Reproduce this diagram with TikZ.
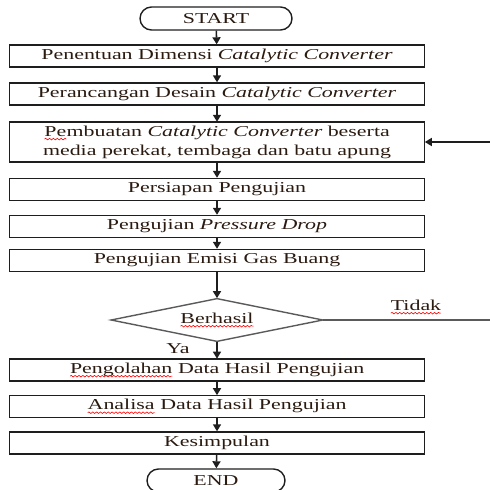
\documentclass[tikz,border=0pt]{standalone}
\usepackage{fontspec}
\setmainfont{Liberation Serif}[FakeStretch=1.45]
\usetikzlibrary{arrows.meta, positioning, shapes.geometric, decorations.pathmorphing}
\definecolor{cline}{HTML}{1E1E1E}
\definecolor{cgrey}{HTML}{5A5A5A}
\definecolor{ctext}{HTML}{2A1A10}
\tikzset{
  every picture/.style={font=\fontsize{8.6}{10.8}\selectfont, line width=0.8pt},
  box/.style={draw=cline, text=ctext, align=center, inner sep=2pt, minimum width=8.3cm, minimum height=0.44cm},
  term/.style={draw=cline, text=ctext, rounded corners=0.23cm, minimum height=0.46cm, inner sep=1pt},
  decision/.style={diamond, draw=cgrey, text=ctext, aspect=5, inner sep=0pt, minimum width=4.24cm, minimum height=0.86cm},
  arrow/.style={-{Triangle[length=1.4mm, width=1.6mm]}, draw=cline, line width=0.9pt},
  line/.style={draw=cgrey, line width=0.9pt},
  note/.style={text=ctext},
  word/.style={rectangle, draw=none, fill=none, rounded corners=0pt, minimum width=0pt, minimum height=0pt, inner sep=0pt, outer sep=0pt, align=left},
  squiggle/.style={draw=red, line width=0.35pt, decorate, decoration={snake, amplitude=0.45pt, segment length=2.2pt}},
}
% red spell-check wave under a word
\newcommand\typo[1]{\tikz[baseline=(w.base)]{\node[word] (w) {#1};
  \draw[squiggle] ([yshift=-1.7pt]w.base west) -- ([yshift=-1.7pt]w.base east);}}
\begin{document}
\begin{tikzpicture}[x=0.02cm, y=-0.02cm]
  \useasboundingbox (0,0) rectangle (490,490);
  % start
  \node[term, minimum width=3.04cm] (start) at (216,18.5) {START};
  % steps
  \foreach \n/\y/\t in {dimensi/56/{Penentuan Dimensi \textit{Catalytic Converter}},
      desain/94/{Perancangan Desain \textit{Catalytic Converter}},
      pembuatan/142/{\typo{Pe}mbuatan \textit{Catalytic Converter} beserta\\media perekat, tembaga dan batu apung},
      persiapan/189.5/{Persiapan Pengujian},
      pressure/226.5/{Pengujian \textit{Pressure Drop}},
      emisi/260.5/{Pengujian Emisi Gas Buang}} {
    \node[box] (\n) at (217,\y) {\t};
  }
  \node[decision] (berhasil) at (217,320) {\typo{Berhasil}};
  \foreach \n/\y/\t in {pengolahan/370/{\typo{Pengolahan} Data Hasil Pengujian},
      analisa/406.5/{\typo{Analisa} Data Hasil Pengujian},
      kesimpulan/443/{Kesimpulan}} {
    \node[box] (\n) at (217,\y) {\t};
  }
  \node[term, minimum width=2.76cm] (end) at (216,480.5) {END};
  % flow
  \foreach \a/\b in {start/dimensi, dimensi/desain, desain/pembuatan, pembuatan/persiapan,
      persiapan/pressure, pressure/emisi, emisi/berhasil, berhasil/pengolahan,
      pengolahan/analisa, analisa/kesimpulan, kesimpulan/end}
    \draw[arrow] (\a) -- (\b);
  % labels
  \node[note] (ya) at (178,349) {Ya};
  \node[note] (tidak) at (416,307) {\typo{Tidak}};
  % back loop
  \coordinate (tidakend) at (500,320);
  \coordinate (balik) at (500,142);
  \draw[line] (berhasil.east) -- (tidakend) -- (balik);
  \draw[arrow] (balik) -- (pembuatan.east);
\end{tikzpicture}
\end{document}
